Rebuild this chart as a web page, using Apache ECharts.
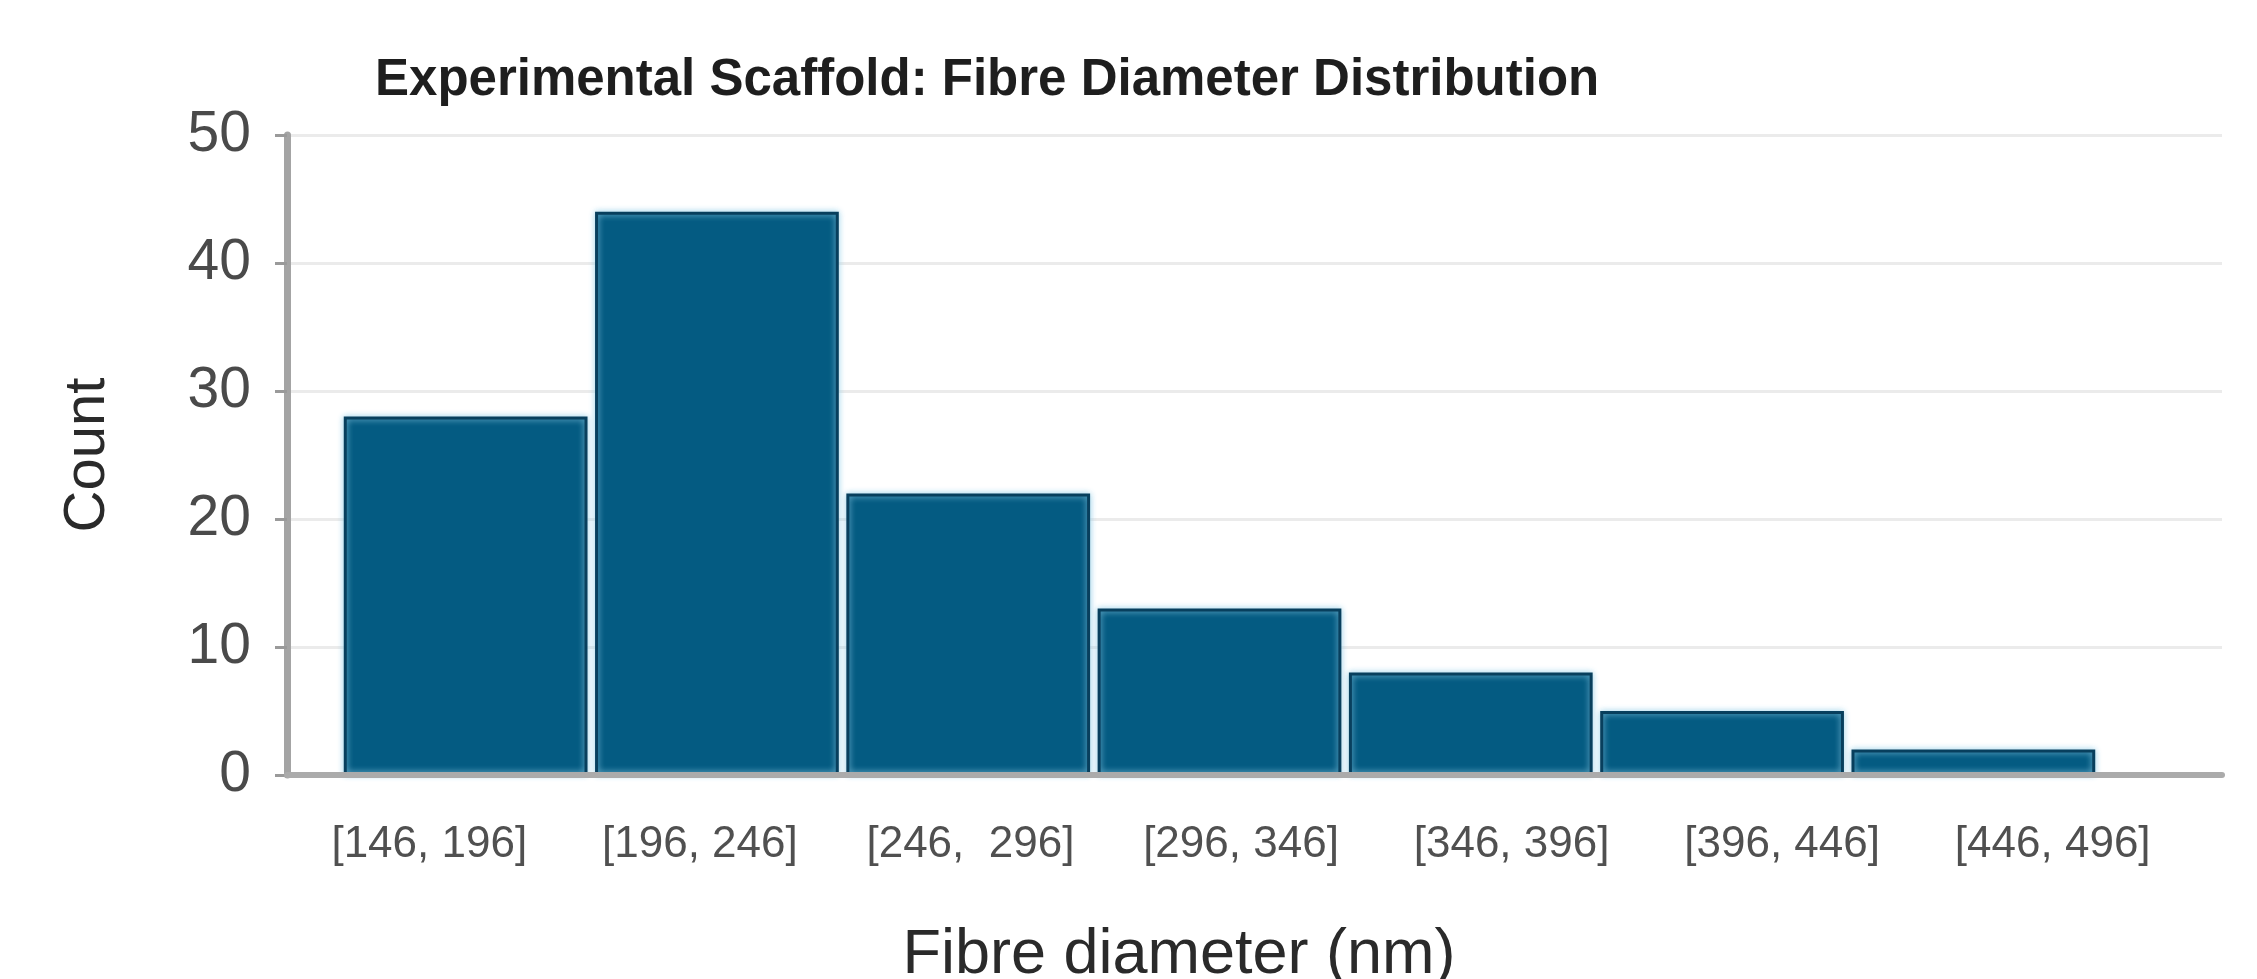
<!DOCTYPE html>
<html lang="en">
<head>
<meta charset="utf-8" />
<title>Fibre Diameter Distribution</title>
<script type="text/javascript" src="https://cdn.jsdelivr.net/npm/echarts@6/dist/echarts.min.js"></script>
<style>
	html, body { margin: 0; padding: 0; background: #fff; }
	#hist { width: 2257px; height: 979px; }
</style>
</head>
<body>
	<div id="hist"></div>
</body>
<script type="text/javascript">
	// histogram bins and counts
	var binLabels = ['[146, 196]', '[196, 246]', '[246,  296]', '[296, 346]', '[346, 396]', '[396, 446]', '[446, 496]'];
	var counts = [28, 44, 22, 13, 8, 5, 2];
	var yTicks = [0, 10, 20, 30, 40, 50];

	var font = "'Liberation Sans', Arial, sans-serif";
	var yMin = yTicks[0], yMax = yTicks[yTicks.length - 1], yStep = yTicks[1] - yTicks[0];

	var chart = echarts.init(document.getElementById('hist'));
	chart.setOption({
		backgroundColor: '#fff',
		animation: false,
		title: {
			text: 'Experimental Scaffold: Fibre Diameter Distribution',
			left: 370,
			top: 50,
			textStyle: { fontFamily: font, fontSize: 51, fontWeight: 'bold', color: '#1e1e1e' }
		},
		// 0: axes frame, 1: bars, 2: bin labels (spread a bit wider than the bars)
		// fixed boxes, so the grids are not shrunk to keep labels inside
		grid: [
			{ left: 287, top: 135, width: 1935, height: 640, outerBoundsMode: 'none' },
			{ left: 340, top: 135, width: 1759, height: 640, outerBoundsMode: 'none' },
			{ left: 294, top: 135, width: 1894, height: 640, outerBoundsMode: 'none' }
		],
		xAxis: [
			{
				gridIndex: 0, type: 'value', min: 0, max: 1, z: 3,
				axisLine: { show: true, lineStyle: { color: '#ababab', width: 6 } },
				axisTick: { show: false }, axisLabel: { show: false }, splitLine: { show: false }
			},
			{ gridIndex: 1, type: 'category', data: binLabels, show: false },
			{
				gridIndex: 2, type: 'category', data: binLabels,
				axisLine: { show: false }, axisTick: { show: false },
				axisLabel: { interval: 0, margin: 48, fontFamily: font, fontSize: 44, color: '#505050' },
				name: 'Fibre diameter (nm)',
				nameLocation: 'middle',
				nameGap: 149,
				nameTextStyle: { fontFamily: font, fontSize: 63, color: '#2a2a2a', padding: [0, 124, 0, 0] }
			}
		],
		yAxis: [
			{
				gridIndex: 0, type: 'value', min: yMin, max: yMax, interval: yStep,
				axisLine: { show: true, lineStyle: { color: '#a4a4a4', width: 7 } },
				axisTick: { show: true, length: 12, lineStyle: { color: '#9a9a9a', width: 3 } },
				axisLabel: { margin: 36, fontFamily: font, fontSize: 57, color: '#4a4a4a' },
				splitLine: { lineStyle: { color: '#ebebeb', width: 3 } },
				name: 'Count',
				nameLocation: 'middle',
				nameGap: 170,
				nameTextStyle: { fontFamily: font, fontSize: 58, color: '#2a2a2a' }
			},
			{ gridIndex: 1, type: 'value', min: yMin, max: yMax, show: false },
			{ gridIndex: 2, type: 'value', min: yMin, max: yMax, show: false }
		],
		series: [{
			name: 'Count',
			type: 'bar',
			xAxisIndex: 1,
			yAxisIndex: 1,
			barCategoryGap: '3%',
			data: counts,
			itemStyle: {
				color: '#045b82',
				borderColor: '#083f5d',
				borderWidth: 3,
				shadowColor: 'rgba(150, 208, 234, 0.9)',
				shadowBlur: 6
			}
		}]
	});
</script>
</html>
